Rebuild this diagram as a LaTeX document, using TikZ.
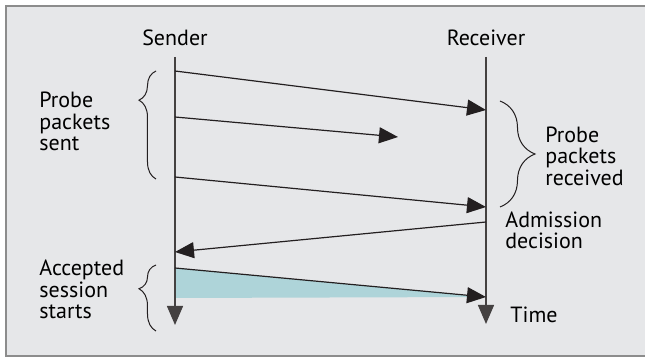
\documentclass[tikz,border=0pt]{standalone}
\usepackage{fontspec}
\setmainfont{PT Sans}
\usetikzlibrary{arrows.meta,decorations.pathreplacing}
\definecolor{panel}{RGB}{230,231,233}
\definecolor{frameline}{RGB}{140,140,140}
\definecolor{ink}{RGB}{35,31,32}
\definecolor{session}{RGB}{174,212,217}
\tikzset{
  msg/.style={draw=ink,line width=0.6pt,-{Triangle[length=9.5pt,width=8pt]}},
  life/.style={draw=ink!85,line width=0.7pt,-{Triangle[length=9.5pt,width=8pt]}},
  curly/.style 2 args={draw=ink,line width=0.5pt,decorate,decoration={brace,amplitude=#1,aspect=#2}},
  lbl/.style={inner sep=0pt,align=left,font=\fontsize{11}{10.75}\selectfont},
}
\begin{document}
\begin{tikzpicture}[x=0.5pt,y=-0.5pt]
\useasboundingbox (0,0) rectangle (645,358);
\fill[white] (0,0) rectangle (645,358);
\draw[fill=panel,draw=frameline,line width=1pt] (6.5,6.5) rectangle (650,356.5);

\node[lbl,anchor=base] (sender) at (175,46) {Sender};
\node[lbl,anchor=base] (receiver) at (486,46) {Receiver};

\coordinate (stop) at (175,57);
\coordinate (sbot) at (175,325);
\coordinate (rtop) at (486,57);
\coordinate (rbot) at (486,324);

\coordinate (p1) at (175,71);
\coordinate (q1) at (486,110);
\coordinate (p2) at (175,117);
\coordinate (q2) at (398,137);
\coordinate (p3) at (175,177);
\coordinate (q3) at (486,207);
\coordinate (d0) at (486,222);
\coordinate (d1) at (175,252);
\coordinate (a0) at (175,268);
\coordinate (a1) at (486,297);
\coordinate (abase) at (175,298);

\fill[session] (a0) -- (a1) -- (abase) -- cycle;

\draw[life] (stop) -- (sbot);
\draw[life] (rtop) -- (rbot);

\draw[msg] (p1) -- (q1);
\draw[msg] (p2) -- (q2);
\draw[msg] (p3) -- (q3);
\draw[msg] (d0) -- (d1);
\draw[msg] (a0) -- (a1);

\coordinate (bs0) at (156,179);
\coordinate (bs1) at (156,71);
\coordinate (br0) at (500,101);
\coordinate (br1) at (500,207);
\coordinate (ba0) at (156,331);
\coordinate (ba1) at (156,265);
\draw[curly={8.5pt}{0.73}] (bs0) -- (bs1);
\draw[curly={17.5pt}{0.5}] (br0) -- (br1);
\draw[curly={8.5pt}{0.64}] (ba0) -- (ba1);

\node[lbl,anchor=base west] (sent) at (39,151) {Probe\\packets\\sent};
\node[lbl,anchor=base west] (recv) at (545,185.5) {Probe\\packets\\received};
\node[lbl,anchor=base west] (adm) at (505,249) {Admission\\decision};
\node[lbl,anchor=base west] (acc) at (39,319) {Accepted\\session\\starts};
\node[lbl,anchor=base west] (time) at (510,323) {Time};
\end{tikzpicture}
\end{document}
